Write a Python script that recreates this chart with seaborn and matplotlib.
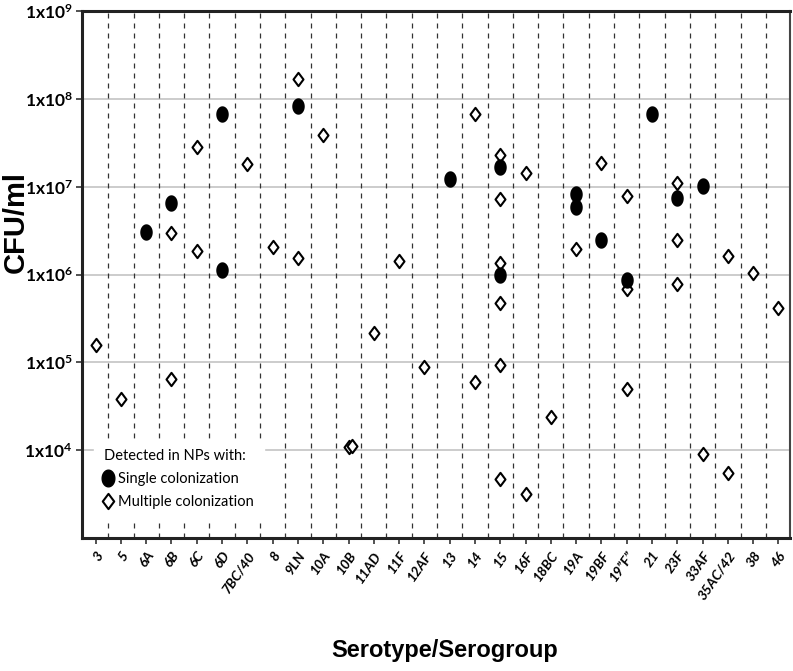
import numpy as np
import pandas as pd
import matplotlib
matplotlib.use("Agg")
import matplotlib.pyplot as plt
from matplotlib.path import Path
from matplotlib.lines import Line2D
from matplotlib.ticker import FixedLocator, NullLocator, FuncFormatter
import seaborn as sns

categories = ["3", "5", "6A", "6B", "6C", "6D", "7BC/40", "8", "9LN", "10A", "10B",
              "11AD", "11F", "12AF", "13", "14", "15", "16F", "18BC", "19A", "19BF",
              "19\u201dF\u201d", "21", "23F", "33AF", "35AC/42", "38", "46"]

single_cat = ["6A", "6B", "6D", "6D", "9LN", "13", "15", "15", "19A", "19A", "19BF",
              "19\u201dF\u201d", "21", "23F", "33AF"]
single_val = [3.07e6, 6.6e6, 6.8e7, 1.14e6, 8.4e7, 1.24e7, 1.69e7, 9.85e5, 8.2e6, 5.9e6,
              2.47e6, 8.6e5, 6.8e7, 7.4e6, 1.03e7]

multi_cat = ["3", "5", "6B", "6B", "6C", "6C", "7BC/40", "8", "9LN", "9LN", "10A",
             "10B", "10B", "11AD", "11F", "12AF", "14", "14",
             "15", "15", "15", "15", "15", "15", "16F", "16F", "18BC", "19A", "19BF",
             "19\u201dF\u201d", "19\u201dF\u201d", "19\u201dF\u201d",
             "23F", "23F", "23F", "33AF", "35AC/42", "35AC/42", "38", "46"]
multi_val = [1.58e5, 3.8e4, 3.0e6, 6.4e4, 2.8e7, 1.86e6, 1.8e7, 2.07e6, 1.68e8, 1.55e6, 3.84e7,
             1.09e4, 1.12e4, 2.17e5, 1.42e6, 8.9e4, 6.8e7, 6.0e4,
             2.29e7, 7.2e6, 1.34e6, 4.76e5, 9.3e4, 4.7e3, 1.44e7, 3.15e3, 2.4e4, 1.93e6, 1.87e7,
             7.8e6, 6.8e5, 5.0e4,
             1.09e7, 2.5e6, 7.9e5, 9.0e3, 1.62e6, 5.5e3, 1.05e6, 4.2e5]

ytick_vals = [1e4, 1e5, 1e6, 1e7, 1e8, 1e9]
legend_title = "Detected in NPs with:"
legend_labels = ["Single colonization", "Multiple colonization"]

sns.set_theme(style="white")
plt.rcParams["font.family"] = ["Lato", "DejaVu Sans"]
plt.rcParams["mathtext.fontset"] = "custom"
plt.rcParams["mathtext.rm"] = "Lato:bold"
plt.rcParams["mathtext.bf"] = "Lato:bold"
plt.rcParams["mathtext.it"] = "Lato:bold"
for key in ["text.color", "axes.labelcolor", "xtick.color", "ytick.color"]:
    plt.rcParams[key] = "black"


def build_df(cats, vals):
    idx = {c: i for i, c in enumerate(categories)}
    xs = []
    seen = {}
    for c, v in zip(cats, vals):
        x = float(idx[c])
        for pv in seen.get(c, []):
            if abs(np.log10(pv) - np.log10(v)) < 0.05:
                x += 0.13
        seen.setdefault(c, []).append(v)
        xs.append(x)
    return pd.DataFrame({"x": xs, "cfu": vals})


df_s = build_df(single_cat, single_val)
df_m = build_df(multi_cat, multi_val)

t = np.linspace(0, 2 * np.pi, 41)
ellipse = Path(np.column_stack([0.76 * np.cos(t), np.sin(t)]), closed=True)
diamond = Path([(0, 1), (0.75, 0), (0, -1), (-0.75, 0), (0, 1)], closed=True)

fig = plt.figure(figsize=(7.93, 6.71), dpi=100)
ax = fig.add_axes([0.104, 0.198, 0.892, 0.7856])
ax.set_yscale("log")
ax.set_ylim(1e3, 1e9)
ax.set_xlim(-0.52, 27.45)

# grid
for v in ytick_vals[:-1]:
    ax.axhline(v, color="#c8c8c8", lw=1.3, zorder=0)
for k in range(len(categories) - 1):
    ax.axvline(k + 0.5, color="#333333", lw=0.9, ls=(0, (4, 4)), zorder=0.5)

sns.scatterplot(data=df_m, x="x", y="cfu", marker=diamond, s=92, facecolor="white",
                edgecolor="black", linewidth=1.5, ax=ax, zorder=3)
sns.scatterplot(data=df_s, x="x", y="cfu", marker=ellipse, s=140, color="black",
                edgecolor="black", linewidth=0, ax=ax, zorder=4)

ax.set_xticks(range(len(categories)))
ax.set_xticklabels(categories, rotation=55, ha="right", rotation_mode="anchor",
                   fontsize=10, fontweight="bold", fontstyle="italic")
ax.yaxis.set_major_locator(FixedLocator(ytick_vals))
ax.yaxis.set_minor_locator(NullLocator())
ax.yaxis.set_major_formatter(FuncFormatter(
    lambda v, p: r"$\mathbf{1x10}^{\mathbf{%d}}$" % int(round(np.log10(v)))))
ax.tick_params(axis="both", which="major", direction="out", length=4, width=1.2,
               color="#333333", bottom=True, left=True)
ax.tick_params(axis="x", pad=4)
ax.tick_params(axis="y", pad=3, labelsize=12.5)

for side in ["top", "left", "bottom"]:
    ax.spines[side].set_color("#222222")
    ax.spines[side].set_linewidth(2.2)
ax.spines["right"].set_color("#444444")
ax.spines["right"].set_linewidth(1.5)

ax.set_ylabel("CFU/ml", fontsize=21, fontweight="bold", family=["Liberation Sans", "DejaVu Sans"])
ax.yaxis.set_label_coords(-0.075, 0.600)
ax.set_xlabel("Serotype/Serogroup", fontsize=17, fontweight="bold",
              family=["Liberation Sans", "DejaVu Sans"])
ax.xaxis.set_label_coords(0.512, -0.192)

handles = [
    Line2D([], [], ls="none", marker=ellipse, markersize=12, color="black"),
    Line2D([], [], ls="none", marker=diamond, markersize=11, markerfacecolor="white",
           markeredgecolor="black", markeredgewidth=1.5),
]
leg = ax.legend(handles, legend_labels, title=legend_title, loc="lower left",
                bbox_to_anchor=(0.016, 0.036), frameon=True, fancybox=False,
                handlelength=0.6, handletextpad=0.35, labelspacing=0.6,
                fontsize=10.5, title_fontsize=10.5, borderpad=0.7, borderaxespad=0)
leg.get_frame().set_facecolor("white")
leg.get_frame().set_edgecolor("white")
leg.get_frame().set_alpha(1)
leg._legend_box.align = "left"
leg.set_zorder(5)

fig.savefig("out.png", dpi=100)
